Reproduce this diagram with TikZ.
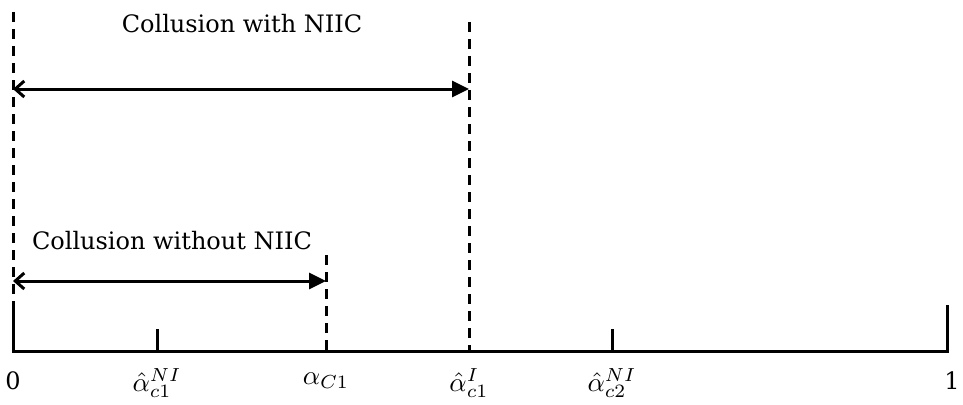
\documentclass[tikz,border=0pt]{standalone}
\usepackage{fontspec}
\setmainfont{DejaVu Serif}
\usetikzlibrary{arrows.meta}
\begin{document}
\begin{tikzpicture}[x=1pt,y=-1pt,
  axisline/.style={line width=3pt},
  dashline/.style={line width=3pt, dash pattern=on 10pt off 7pt},
  spanarrow/.style={line width=3pt, {Straight Barb[length=9pt,width=16pt,line width=3pt]}-{Triangle[length=17pt,width=16pt]}},
  lbl/.style={font=\fontsize{24}{28}\selectfont, inner sep=0pt},
  mlbl/.style={inner sep=0pt}]
\useasboundingbox (0,0) rectangle (963,404);
% coordinates
\coordinate (a0) at (13,351);
\coordinate (a1) at (947,351);
\coordinate (t0) at (13,305);
\coordinate (t1) at (947,305);
\coordinate (k1) at (157,329);
\coordinate (k1b) at (157,351);
\coordinate (k2) at (612,329);
\coordinate (k2b) at (612,351);
\coordinate (d0top) at (13,12);
\coordinate (dAtop) at (326,255);
\coordinate (dAbot) at (326,351);
\coordinate (dBtop) at (469,22);
\coordinate (dBbot) at (469,351);
\coordinate (ar1l) at (13,89);
\coordinate (ar1r) at (469,89);
\coordinate (ar2l) at (13,281);
\coordinate (ar2r) at (326,281);
% axis and ticks
\draw[axisline] (t0) -- (a0) -- (a1) -- (t1);
\draw[axisline] (k1) -- (k1b);
\draw[axisline] (k2) -- (k2b);
% dashed lines
\draw[dashline] (d0top) -- (t0);
\draw[dashline] (dAtop) -- (dAbot);
\draw[dashline] (dBtop) -- (dBbot);
% arrows
\draw[spanarrow] (ar1l) -- (ar1r);
\draw[spanarrow] (ar2l) -- (ar2r);
% texts
\node[lbl] (t1txt) at (242,24) {Collusion with NIIC};
\node[lbl] (t2txt) at (172,241) {Collusion without NIIC};
\node[lbl] (l0) at (13,381) {0};
\node[lbl] (l1) at (952,381) {1};
\node[mlbl] (la) at (157,383) {\scalebox{2.7}{$\hat{\alpha}_{c1}^{NI}$}};
\node[mlbl] (lb) at (326,381) {\scalebox{2.7}{$\alpha_{C1}$}};
\node[mlbl] (lc) at (469,383) {\scalebox{2.7}{$\hat{\alpha}_{c1}^{I}$}};
\node[mlbl] (ld) at (612,383) {\scalebox{2.7}{$\hat{\alpha}_{c2}^{NI}$}};
\end{tikzpicture}
\end{document}
